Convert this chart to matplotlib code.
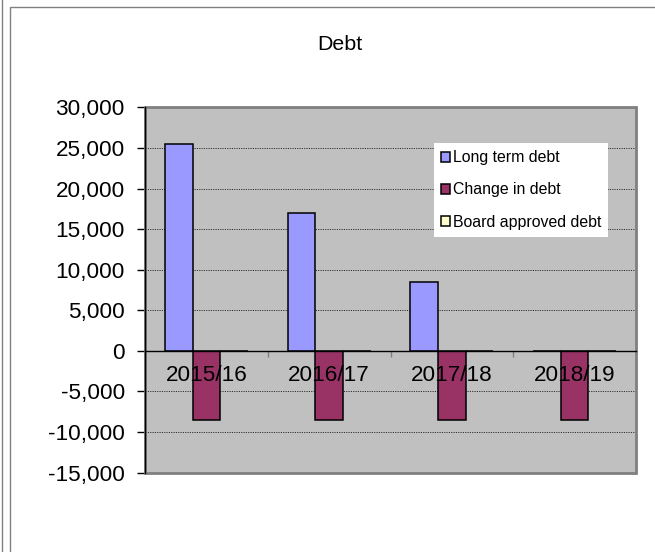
import numpy as np
import matplotlib
matplotlib.use("Agg")
import matplotlib.pyplot as plt
from matplotlib.patches import Rectangle
from matplotlib.ticker import FuncFormatter, FixedLocator

plt.rcParams['font.family'] = ['Liberation Sans', 'DejaVu Sans']
plt.rcParams['axes.unicode_minus'] = False

# data
years = ['2015/16', '2016/17', '2017/18', '2018/19']
long_term_debt = [25500, 17000, 8500, 0]
change_in_debt = [-8500, -8500, -8500, -8500]
board_approved_debt = [0, 0, 0, 0]

fig = plt.figure(figsize=(6.55, 5.52), dpi=100)
fig.patch.set_facecolor('white')

# chart area borders
fig.add_artist(plt.Line2D([1.5/655, 1.5/655], [0, 1], color='#808080', lw=1.0))
fig.add_artist(Rectangle((10/655, -0.1), 1.2, 1 - 7/552 + 0.1, fill=False,
                         edgecolor='#808080', lw=1.0, transform=fig.transFigure))

ax = fig.add_axes([145/655, 79.5/552, 491/655, 365/552])
ax.set_facecolor('#C0C0C0')

x = np.arange(len(years))
w = 0.225
ax.bar(x - w, long_term_debt, w, color='#9999FF', edgecolor='black', lw=1.1,
       label='Long term debt', zorder=3)
ax.bar(x, change_in_debt, w, color='#993366', edgecolor='black', lw=1.1,
       label='Change in debt', zorder=3)
ax.bar(x + w, board_approved_debt, w, color='#FFFFCC', edgecolor='black', lw=1.1,
       label='Board approved debt', zorder=3)

ax.set_xlim(-0.5, 3.5)
ax.set_ylim(-15000, 30000)
ax.set_yticks(np.arange(-15000, 30001, 5000))
ax.yaxis.set_major_formatter(FuncFormatter(lambda v, p: '{:,.0f}'.format(v)))
ax.tick_params(axis='y', direction='out', length=6, width=1, color='black',
               labelsize=16.2, pad=8.5)
ax.yaxis.grid(True, color='#303030', linestyle=(0, (1.2, 1.2)), lw=0.7, zorder=1)

# x axis through zero
for s in ['top', 'right', 'bottom', 'left']:
    ax.spines[s].set_visible(False)
ax.spines['left'].set_visible(True)
ax.spines['left'].set_color('black')
ax.spines['left'].set_linewidth(1.0)
ax.spines['left'].set_zorder(4)
ax.add_patch(Rectangle((0, 0), 1, 1, transform=ax.transAxes, fill=False,
                       edgecolor='#808080', lw=2.0, zorder=2, clip_on=False))
ax.spines['bottom'].set_visible(True)
ax.spines['bottom'].set_position(('data', 0))
ax.spines['bottom'].set_color('black')
ax.spines['bottom'].set_linewidth(1.0)
ax.spines['bottom'].set_zorder(4)

ax.xaxis.set_major_locator(FixedLocator([0.5, 1.5, 2.5]))
ax.xaxis.set_major_formatter(FuncFormatter(lambda v, p: ''))
ax.tick_params(axis='x', which='major', direction='out', length=4, width=1,
               color='#808080')

# category labels drawn above the bars
for xi, lab in zip(x, years):
    ax.annotate(lab, (xi, 0), xytext=(0, -10), textcoords='offset points',
                ha='center', va='top', fontsize=16.2, zorder=5)

leg = ax.legend(loc='upper left', bbox_to_anchor=(0.588, 0.902), frameon=True,
                fancybox=False, edgecolor='none', facecolor='white', framealpha=1,
                fontsize=11.4, handlelength=0.55, handleheight=0.55,
                handletextpad=0.2, labelspacing=1.08, borderpad=0.45,
                borderaxespad=0)
leg.set_zorder(6)

fig.text(340/655, 1 - 45/552, 'Debt', ha='center', va='center', fontsize=15.4)

fig.savefig('out.png', dpi=100)
